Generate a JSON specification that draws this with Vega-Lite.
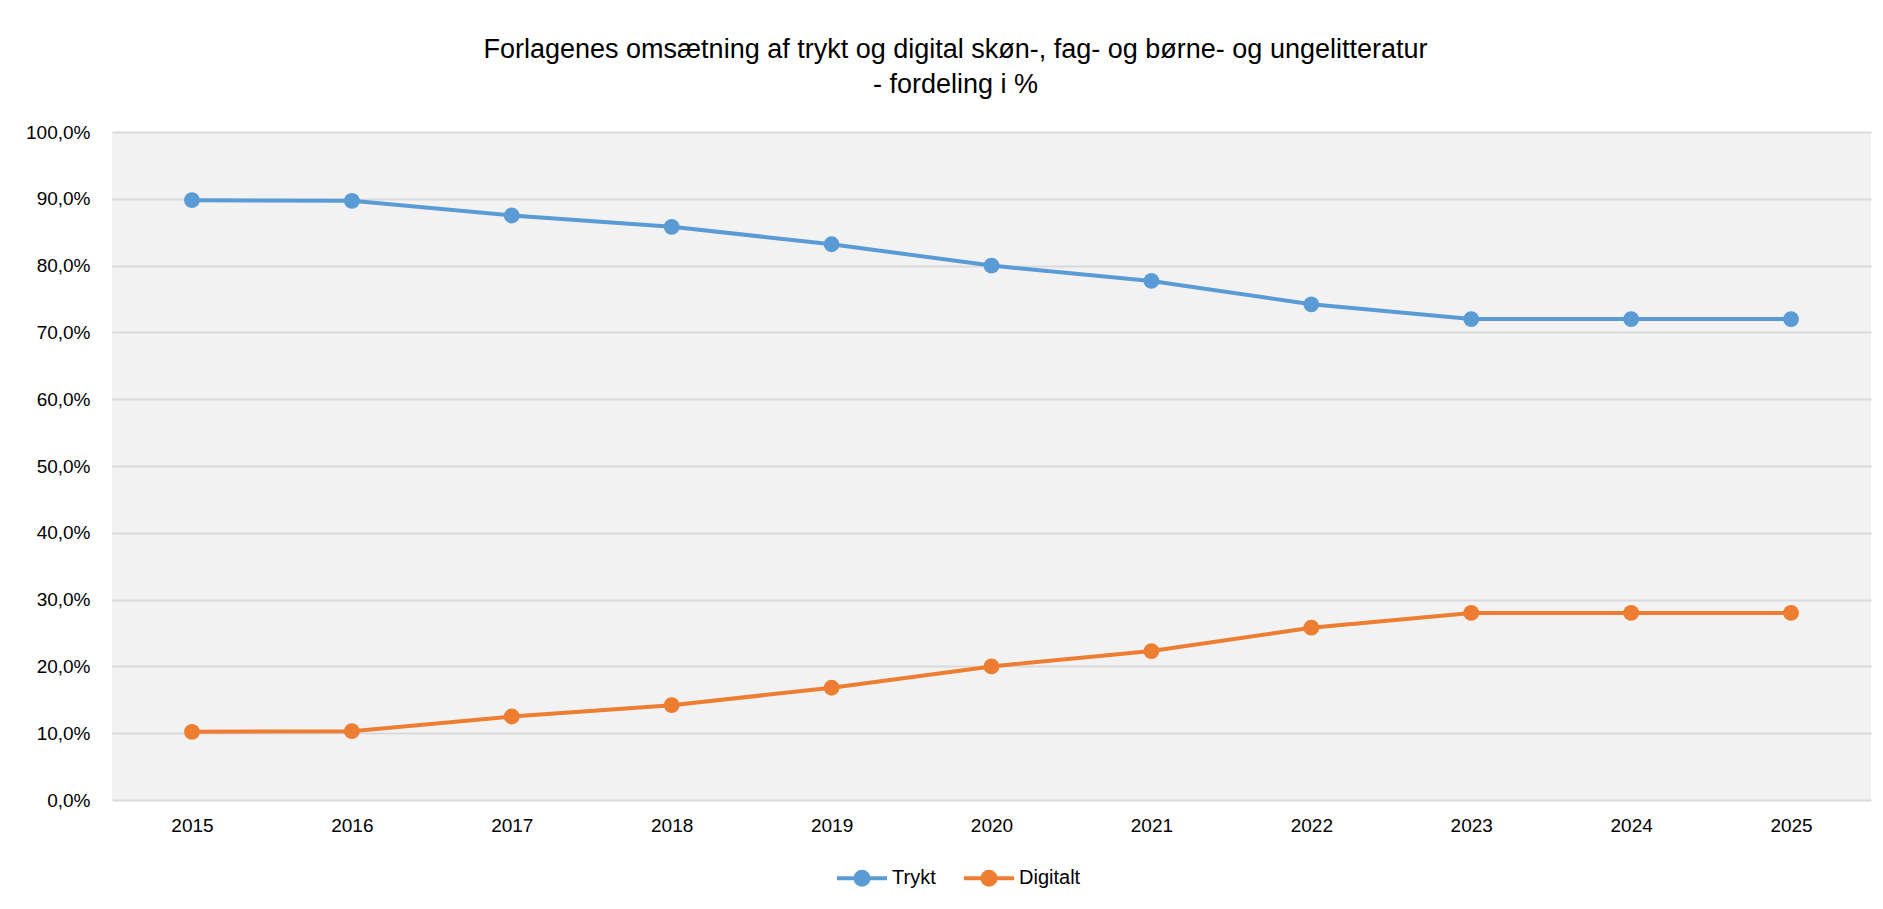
{
  "$schema": "https://vega.github.io/schema/vega-lite/v6.json",
  "width": 1759,
  "height": 668,
  "autosize": "none",
  "padding": {"left": 112, "top": 132, "right": 12, "bottom": 109},
  "background": "#ffffff",
  "title": {
    "text": ["Forlagenes omsætning af trykt og digital skøn-, fag- og børne- og ungelitteratur", "- fordeling i %"],
    "font": "Liberation Sans",
    "fontSize": 27,
    "fontWeight": "normal",
    "color": "#000000",
    "lineHeight": 35,
    "anchor": "middle",
    "dx": -36,
    "offset": 24
  },
  "config": {
    "view": {"fill": "#F2F2F2", "stroke": null},
    "font": "Liberation Sans"
  },
  "data": {
    "values": [
      {"year": "2015", "serie": "Trykt", "value": 0.898},
      {"year": "2016", "serie": "Trykt", "value": 0.897},
      {"year": "2017", "serie": "Trykt", "value": 0.875},
      {"year": "2018", "serie": "Trykt", "value": 0.858},
      {"year": "2019", "serie": "Trykt", "value": 0.832},
      {"year": "2020", "serie": "Trykt", "value": 0.800},
      {"year": "2021", "serie": "Trykt", "value": 0.777},
      {"year": "2022", "serie": "Trykt", "value": 0.742},
      {"year": "2023", "serie": "Trykt", "value": 0.720},
      {"year": "2024", "serie": "Trykt", "value": 0.720},
      {"year": "2025", "serie": "Trykt", "value": 0.720},
      {"year": "2015", "serie": "Digitalt", "value": 0.102},
      {"year": "2016", "serie": "Digitalt", "value": 0.103},
      {"year": "2017", "serie": "Digitalt", "value": 0.125},
      {"year": "2018", "serie": "Digitalt", "value": 0.142},
      {"year": "2019", "serie": "Digitalt", "value": 0.168},
      {"year": "2020", "serie": "Digitalt", "value": 0.200},
      {"year": "2021", "serie": "Digitalt", "value": 0.223},
      {"year": "2022", "serie": "Digitalt", "value": 0.258},
      {"year": "2023", "serie": "Digitalt", "value": 0.280},
      {"year": "2024", "serie": "Digitalt", "value": 0.280},
      {"year": "2025", "serie": "Digitalt", "value": 0.280}
    ]
  },
  "encoding": {
    "x": {
      "field": "year",
      "type": "ordinal",
      "scale": {"type": "point", "padding": 0.5},
      "axis": {
        "title": null,
        "labelAngle": 0,
        "labelFontSize": 19,
        "labelColor": "#000000",
        "labelPadding": 16,
        "ticks": false,
        "domain": false,
        "grid": false
      }
    },
    "y": {
      "field": "value",
      "type": "quantitative",
      "scale": {"domain": [0, 1], "nice": false, "zero": true},
      "axis": {
        "title": null,
        "values": [0, 0.1, 0.2, 0.3, 0.4, 0.5, 0.6, 0.7, 0.8, 0.9, 1.0],
        "labelExpr": "replace(format(datum.value, '.1%'), '.', ',')",
        "labelFontSize": 19,
        "labelColor": "#000000",
        "labelPadding": 22,
        "ticks": false,
        "domain": false,
        "grid": true,
        "gridColor": "#D9D9D9",
        "gridWidth": 1.8,
        "gridOpacity": 1
      }
    },
    "color": {
      "field": "serie",
      "type": "nominal",
      "scale": {"domain": ["Trykt", "Digitalt"], "range": ["#5B9BD5", "#ED7D31"]},
      "legend": {
        "title": null,
        "orient": "none",
        "direction": "horizontal",
        "legendX": 723,
        "legendY": 719,
        "labelFontSize": 20,
        "labelColor": "#000000",
        "labelOffset": 3,
        "columnPadding": 20,
        "symbolType": "M-1,0L1,0M0.26,0A0.26,0.26,0,1,1,-0.26,0A0.26,0.26,0,1,1,0.26,0Z",
        "symbolSize": 2500,
        "symbolStrokeWidth": 4,
        "encode": {
          "symbols": {
            "update": {
              "fill": {"scale": "color", "field": "value"},
              "stroke": {"scale": "color", "field": "value"},
              "strokeWidth": {"value": 4},
              "opacity": {"value": 1}
            }
          }
        }
      }
    }
  },
  "layer": [
    {"mark": {"type": "line", "strokeWidth": 4}},
    {"mark": {"type": "point", "filled": true, "size": 250, "opacity": 1}}
  ]
}
